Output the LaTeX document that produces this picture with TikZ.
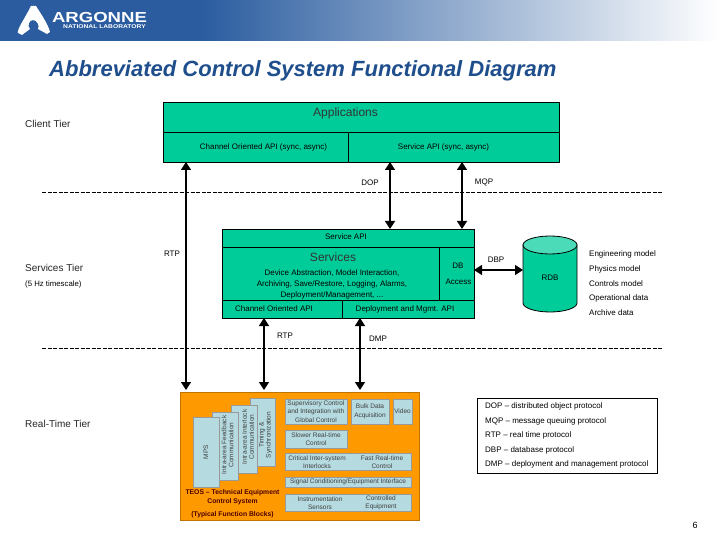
\documentclass[tikz,border=0pt]{standalone}
\usepackage{fontspec}
\setmainfont{Liberation Sans}
\usetikzlibrary{arrows.meta,shapes.geometric}
\definecolor{tier}{HTML}{00CC99}
\definecolor{teos}{HTML}{FF9900}
\definecolor{blk}{HTML}{B5DAE0}
\definecolor{hdr}{HTML}{2A5C9F}
\definecolor{ttl}{HTML}{1F4E8C}
\tikzset{
 x=1pt,y=-1pt,
 box/.style={draw=black,line width=0.8pt,fill=tier,inner sep=0,anchor=north west},
 lab/.style={font=\fontsize{8}{10}\selectfont,text=black,inner sep=0,align=center},
 tierlab/.style={lab,anchor=west,font=\fontsize{10}{12}\selectfont,text=black!85},
 big/.style={font=\fontsize{12}{14}\selectfont,text=black!80,inner sep=0},
 tinyb/.style={font=\fontsize{6.5}{8.5}\selectfont,text=black!75,inner sep=0,align=center},
 rotb/.style={tinyb,rotate=90,font=\fontsize{6.5}{7}\selectfont},
 capt/.style={inner sep=0,align=center,text=black!70!red,font=\bfseries\fontsize{6.8}{9}\selectfont},
 leaf/.style={draw=black!40,line width=0.3pt,fill=blk,inner sep=0,anchor=north west},
 dbl/.style={line width=1.5pt,{Triangle[length=8pt,width=10pt]}-{Triangle[length=8pt,width=10pt]}},
 tierline/.style={line width=0.7pt,dash pattern=on 4pt off 1.5pt},
}
\newcommand{\bx}[5]{\node[box,minimum width=#3pt,minimum height=#4pt] (#5) at (#1,#2) {};}
\newcommand{\lf}[5]{\node[leaf,minimum width=#3pt,minimum height=#4pt] (#5) at (#1,#2) {};}
\begin{document}
\begin{tikzpicture}
\useasboundingbox (0,0) rectangle (720,540);
\fill[white] (0,0) rectangle (720,540);
\fill[hdr] (0,0) rectangle (200,41);
\shade[left color=hdr,right color=white] (200,0) rectangle (720,41);
% logo
\fill[white] (18,33) .. controls (17,29) and (24,20) .. (31,6) -- (36,6) .. controls (41,14) and (48,24) .. (50,32) -- (47,34) -- (38,29) .. controls (40,26) and (37,20) .. (33,20) .. controls (29,20) and (27,26) .. (30,29) -- (22,35) -- cycle;
\node[inner sep=0,text=white,xscale=1.28,font=\bfseries\fontsize{14.5}{15}\selectfont] (argonne) at (99.5,17.5) {ARGONNE};
\node[inner sep=0,text=white,xscale=1.22,font=\bfseries\fontsize{5.5}{6}\selectfont] (nat) at (104.5,27) {NATIONAL LABORATORY};
% title
\node[inner sep=0,anchor=west,text=ttl,font=\bfseries\itshape\fontsize{22}{26}\selectfont] (title) at (49,70.5) {Abbreviated Control System Functional Diagram};
% tiers
\node[tierlab] (client) at (25,124) {Client Tier};
\node[tierlab] (serv) at (25,268) {Services Tier};
\node[lab,anchor=west,font=\fontsize{7.8}{10}\selectfont] (hz) at (25,284) {(5 Hz timescale)};
\node[tierlab] (rt) at (25,424) {Real-Time Tier};
\coordinate (d1l) at (42,192); \coordinate (d1r) at (662,192);
\coordinate (d2l) at (42,348); \coordinate (d2r) at (662,348);
\draw[tierline] (d1l) -- (d1r);
\draw[tierline] (d2l) -- (d2r);
% apps
\bx{162.5}{102}{396}{30}{appt}
\bx{162.5}{132}{185.5}{30}{appl}
\bx{348}{132}{210.5}{30}{appr}
\node[big] (l1) at (345.5,113.5) {Applications};
\node[lab] (l2) at (263.5,147) {Channel Oriented API (sync, async)};
\node[lab] (l3) at (443.5,147) {Service API (sync, async)};
% services
\bx{222}{229}{252}{18}{sapi}
\bx{222}{247}{216.5}{53}{svc}
\bx{438.5}{247}{35.5}{53}{dba}
\bx{222}{300}{120}{18}{coapi}
\bx{342}{300}{132}{18}{dmapi}
\node[lab] (l4) at (346,237) {Service API};
\node[big] (l5) at (333,257) {Services};
\node[lab] (l6) at (332,284.5) {Device Abstraction, Model Interaction,\\[1pt]Archiving, Save/Restore, Logging, Alarms,\\[1pt]Deployment/Management, ...};
\node[lab] (l7) at (458,266) {DB};
\node[lab] (l8) at (458.5,281.5) {Access};
\node[lab] (l9) at (274,309) {Channel Oriented API};
\node[lab] (l10) at (405,309) {Deployment and Mgmt. API};
% RDB
\draw[line width=0.8pt,fill=tier] (523,245) -- (523,303) arc[start angle=180,end angle=360,x radius=27,y radius=-9] -- (577,245) -- cycle;
\draw[line width=0.8pt,fill=tier!70!white] (550,245) ellipse[x radius=27,y radius=9];
\node[lab] (l11) at (550,278) {RDB};
\coordinate (cyw) at (523,270);
\node[lab,anchor=west] (m1) at (589,254.5) {Engineering model};
\node[lab,anchor=west] (m2) at (589,269.5) {Physics model};
\node[lab,anchor=west] (m3) at (589,283.5) {Controls model};
\node[lab,anchor=west] (m4) at (589,298.5) {Operational data};
\node[lab,anchor=west] (m5) at (589,312.5) {Archive data};
% TEOS
\node[draw=teos!75!black,line width=0.6pt,fill=teos,inner sep=0,anchor=north west,minimum width=239pt,minimum height=128pt] (teos) at (180,392) {};
\lf{250}{398}{25}{68}{b4}
\lf{231}{405}{26}{68}{b3}
\lf{212}{412}{26}{68}{b2}
\lf{193}{417}{26}{70}{b1}
\lf{285}{399}{62}{25}{c1}\lf{351}{399}{38}{25}{c2}\lf{393}{399}{19}{25}{c3}
\lf{285}{430}{62}{18}{c4}
\lf{285}{453}{126}{17}{c5}
\lf{285}{477}{126}{10}{c6}
\lf{285}{494}{126}{17}{c7}
\node[tinyb] at (316,411.5) {Supervisory Control\\and Integration with\\Global Control};
\node[tinyb] at (370,411.5) {Bulk Data\\Acquisition};
\node[tinyb] at (402.5,411.5) {Video};
\node[tinyb] at (316,439) {Slower Real-time\\Control};
\node[tinyb] at (317,462) {Critical Inter-system\\Interlocks};
\node[tinyb] at (382,462) {Fast Real-time\\Control};
\node[tinyb] at (348,482) {Signal Conditioning/Equipment Interface};
\node[tinyb] at (320,503) {Instrumentation\\Sensors};
\node[tinyb] at (381,503) {Controlled\\Equipment};
\node[rotb] at (206,452) {MPS};
\node[rotb] at (227.5,445) {Intra-area Feedback\\Communication};
\node[rotb] at (248,437) {Intra-area Interlock\\Communication};
\node[rotb] at (265.5,435) {Timing \&\\Synchronization};
\node[capt] (t1) at (232.5,497.5) {TEOS -- Technical Equipment\\Control System};
\node[capt] (t2) at (232.5,514.5) {(Typical Function Blocks)};
% legend
\node[draw=black,line width=0.8pt,fill=white,inner sep=0,anchor=north west,minimum width=180pt,minimum height=75pt] (leg) at (477,398) {};
\node[lab,anchor=west] at (485,406.5) {DOP -- distributed object protocol};
\node[lab,anchor=west] at (485,421) {MQP -- message queuing protocol};
\node[lab,anchor=west] at (485,435.5) {RTP -- real time protocol};
\node[lab,anchor=west] at (485,450) {DBP -- database protocol};
\node[lab,anchor=west] at (485,464.5) {DMP -- deployment and management protocol};
% connectors
\coordinate (ra) at (186,162); \coordinate (rb) at (186,390);
\draw[dbl] (ra) -- (rb);
\coordinate (da) at (390,162); \coordinate (db) at (390,229);
\draw[dbl] (da) -- (db);
\coordinate (ma) at (462,162); \coordinate (mb) at (462,229);
\draw[dbl] (ma) -- (mb);
\coordinate (rta) at (264,318); \coordinate (rtb) at (264,390);
\draw[dbl] (rta) -- (rtb);
\coordinate (dma) at (360,318); \coordinate (dmb) at (360,390);
\draw[dbl] (dma) -- (dmb);
\coordinate (dbe) at (474,270);
\draw[dbl] (dbe) -- (cyw);
\node[lab] at (370,182.5) {DOP};
\node[lab] at (484,182.5) {MQP};
\node[lab] at (172,254) {RTP};
\node[lab] at (285,336) {RTP};
\node[lab] at (378,339) {DMP};
\node[lab] at (496,260) {DBP};
\node[inner sep=0,font=\fontsize{9}{10}\selectfont] at (695,525) {6};
\end{tikzpicture}
\end{document}
